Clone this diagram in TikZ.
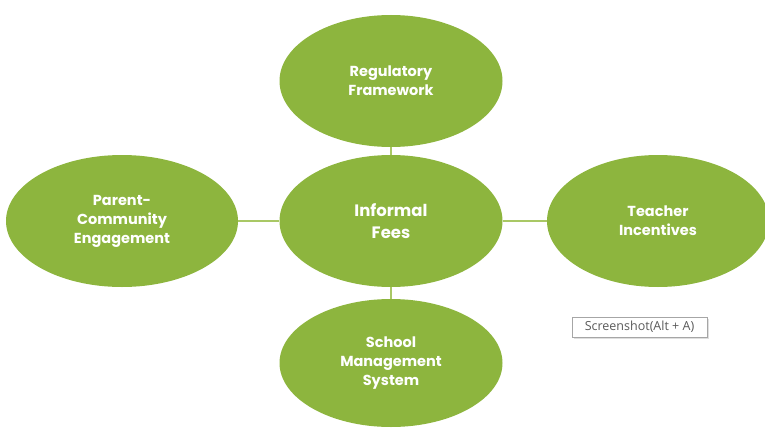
\documentclass[tikz,border=0pt]{standalone}
\usepackage{fontspec}
\setmainfont{Poppins}
\newfontfamily\tipfont{Open Sans}
\usetikzlibrary{shapes.geometric,shadows}
\definecolor{leaf}{HTML}{8DB53E}
\definecolor{linkc}{HTML}{A9C865}
\definecolor{tipgray}{HTML}{5A5A5A}
\tikzset{
  bubble/.style={ellipse, fill=leaf, draw=none, inner sep=0pt, text=white, font=\bfseries\fontsize{14.5}{19}\selectfont, align=center},
  link/.style={draw=linkc, line width=1.3pt},
  tip/.style={draw=gray!70, fill=white, font=\tipfont\fontsize{12.5}{14}\selectfont, text=tipgray, inner xsep=3pt, inner ysep=2pt, minimum width=135pt, minimum height=20pt, drop shadow={shadow xshift=2pt, shadow yshift=-2pt, opacity=0.25}}
}
\begin{document}
\begin{tikzpicture}[x=1pt,y=-1pt]
\useasboundingbox (0,0) rectangle (765,428);
\node[bubble, minimum width=223pt, minimum height=132pt, font=\bfseries\fontsize{16.5}{22}\selectfont] (fees) at (391,221) {Informal\\Fees};
\node[bubble, minimum width=223pt, minimum height=132pt] (reg) at (391,81) {Regulatory\\Framework};
\node[bubble, minimum width=223pt, minimum height=128pt] (sms) at (391,363) {School\\Management\\System};
\node[bubble, minimum width=232pt, minimum height=132pt] (pce) at (122,221) {Parent-\\Community\\Engagement};
\node[bubble, minimum width=222pt, minimum height=132pt] (ti) at (658,221) {Teacher\\Incentives};
\draw[link] (reg) -- (fees);
\draw[link] (fees) -- (sms);
\draw[link] (pce) -- (fees);
\draw[link] (fees) -- (ti);
\node[tip] (shot) at (639.5,327) {Screenshot(Alt + A)};
\end{tikzpicture}
\end{document}
